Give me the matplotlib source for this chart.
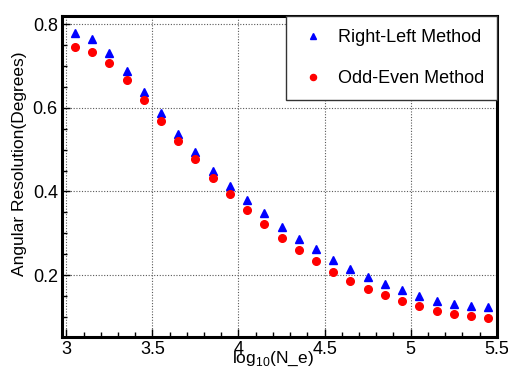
import numpy as np
import matplotlib
matplotlib.use('Agg')
import matplotlib.pyplot as plt
from matplotlib.ticker import MultipleLocator

# shower size bins (log10 of electron number)
log_ne = [3.05, 3.15, 3.25, 3.35, 3.45, 3.55, 3.65, 3.75, 3.85, 3.95,
          4.05, 4.15, 4.25, 4.35, 4.45, 4.55, 4.65, 4.75, 4.85, 4.95,
          5.05, 5.15, 5.25, 5.35, 5.45]

# angular resolution in degrees for the two methods
right_left = [0.778, 0.764, 0.732, 0.687, 0.637, 0.588, 0.538, 0.494, 0.450, 0.414,
              0.379, 0.348, 0.315, 0.286, 0.262, 0.236, 0.215, 0.196, 0.179, 0.164,
              0.150, 0.138, 0.130, 0.126, 0.123]
odd_even = [0.746, 0.734, 0.708, 0.666, 0.618, 0.569, 0.521, 0.477, 0.432, 0.393,
            0.356, 0.322, 0.288, 0.260, 0.233, 0.208, 0.185, 0.167, 0.152, 0.138,
            0.125, 0.115, 0.107, 0.102, 0.097]

xticks = [3, 3.5, 4, 4.5, 5, 5.5]
xticklabels = ['3', '3.5', '4', '4.5', '5', '5.5']
yticks = [0.2, 0.4, 0.6, 0.8]
yticklabels = ['0.2', '0.4', '0.6', '0.8']

plt.rcParams['font.family'] = ['Liberation Sans', 'DejaVu Sans']
plt.rcParams['mathtext.fontset'] = 'custom'
plt.rcParams['mathtext.rm'] = 'Liberation Sans'

fig = plt.figure(figsize=(5.08, 3.76), dpi=100)
ax = fig.add_axes([0.122, 0.1037, 0.856, 0.853])

ax.plot(log_ne, right_left, linestyle='none', marker='^', ms=5.5,
        color='#0000ff', label='Right-Left Method', zorder=3)
ax.plot(log_ne, odd_even, linestyle='none', marker='o', ms=5.5,
        color='#ff0000', label='Odd-Even Method', zorder=3)

ax.set_xlim(2.975, 5.5)
ax.set_ylim(0.052, 0.819)
ax.set_xticks(xticks)
ax.set_xticklabels(xticklabels)
ax.set_yticks(yticks)
ax.set_yticklabels(yticklabels)
ax.xaxis.set_minor_locator(MultipleLocator(0.1))
ax.yaxis.set_minor_locator(MultipleLocator(0.05))
ax.tick_params(which='both', direction='in', top=False, right=False,
               labelsize=13, pad=3, width=1)
ax.tick_params(which='major', length=6)
ax.tick_params(which='minor', length=3.5)

ax.grid(True, which='major', color='0.35', linestyle=(0, (1, 1.5)), linewidth=0.8)
for s in ax.spines.values():
    s.set_linewidth(2.2)

ax.set_ylabel('Angular Resolution(Degrees)', fontsize=12.5)
ax.yaxis.set_label_coords(-0.08, 0.54)
ax.set_xlabel(r'log$_{10}$(N_e)', fontsize=12.5)
ax.xaxis.set_label_coords(0.485, -0.04)

leg = ax.legend(loc='upper right', bbox_to_anchor=(1.0, 1.0), borderaxespad=0,
                fontsize=13, frameon=True, fancybox=False, edgecolor='#333333',
                framealpha=1, borderpad=0.7, labelspacing=1.35,
                handlelength=1.6, handletextpad=0.6, markerscale=0.8)
leg.get_frame().set_linewidth(1.0)

plt.savefig('out.png', dpi=100)
